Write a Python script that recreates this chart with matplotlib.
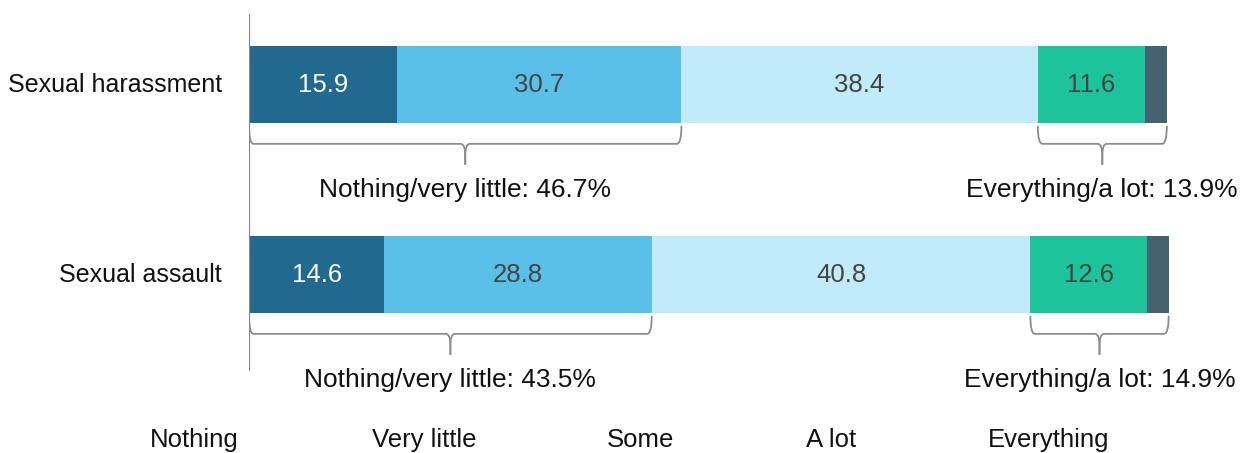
import matplotlib.pyplot as plt
from matplotlib.path import Path
from matplotlib.patches import PathPatch

plt.rcParams['font.family'] = ['Liberation Sans', 'DejaVu Sans']

categories = ["Sexual harassment", "Sexual assault"]
levels = ["Nothing", "Very little", "Some", "A lot", "Everything"]
nothing = [15.9, 14.6]
very_little = [30.7, 28.8]
some = [38.4, 40.8]
a_lot = [11.6, 12.6]
everything = [2.3, 2.3]
low_totals = [46.7, 43.5]
high_totals = [13.9, 14.9]

colors = ["#21698f", "#5bc0e7", "#c1ebf8", "#1dc49b", "#46626f"]
text_colors = ["white", "#444444", "#444444", "#444444", None]

fig = plt.figure(figsize=(12.57, 4.53), dpi=100)
ax = fig.add_axes([249 / 1257, 0, 928 / 1257, 1])
ax.set_xlim(0, 100)
ax.set_ylim(1.937, -0.447)
ax.axis("off")

series = [nothing, very_little, some, a_lot, everything]
ypos = [0, 1]
h = 0.405
left = [0.0, 0.0]
for vals, c, tc in zip(series, colors, text_colors):
    ax.barh(ypos, vals, left=left, height=h, color=c, edgecolor="none")
    if tc:
        for y, l, v in zip(ypos, left, vals):
            ax.text(l + v / 2, y, f"{v:.1f}", ha="center", va="center",
                    color=tc, fontsize=18.5)
    left = [l + v for l, v in zip(left, vals)]

# vertical axis line
ax.axvline(0, ymin=1 - 370 / 453, ymax=1 - 15 / 453, color="#888888", lw=1.6)


def brace(x0, x1, y):
    top = y + 0.215
    line = y + 0.31
    tip = y + 0.42
    mid = (x0 + x1) / 2
    rx, ry = 0.5, 0.06
    gray = "#8c8c8c"
    for a, s in ((x0, 1), (x1, -1)):
        verts = [(a, top), (a, line), (a + s * rx, line),
                 (mid - s * rx, line), (mid, line), (mid, line + ry), (mid, tip)]
        codes = [Path.MOVETO, Path.CURVE3, Path.CURVE3,
                 Path.LINETO, Path.CURVE3, Path.CURVE3, Path.LINETO]
        ax.add_patch(PathPatch(Path(verts, codes), fill=False, ec=gray, lw=1.3))


for i, y in enumerate(ypos):
    low_end = nothing[i] + very_little[i]
    hi_start = low_end + some[i]
    hi_end = hi_start + a_lot[i] + everything[i]
    brace(0, low_end, y)
    brace(hi_start, hi_end, y)
    ax.text(low_end / 2, y + 0.555, f"Nothing/very little: {low_totals[i]}%",
            ha="center", va="center", fontsize=19, color="#111111")
    ax.text((hi_start + hi_end) / 2, y + 0.555, f"Everything/a lot: {high_totals[i]}%",
            ha="center", va="center", fontsize=19, color="#111111")
    ax.text(-2.9, y, categories[i], ha="right", va="center", fontsize=18,
            color="#111111")

legend_x = [194, 424, 641, 831, 1049]
for lab, x in zip(levels, legend_x):
    fig.text(x / 1257, 1 - 440 / 453, lab, ha="center", va="center",
             fontsize=18.5, color="#111111")

fig.savefig("out.png", dpi=100)
